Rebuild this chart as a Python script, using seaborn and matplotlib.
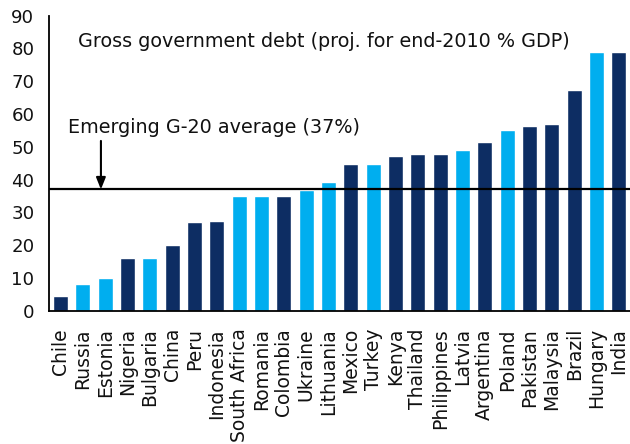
import matplotlib
matplotlib.use("Agg")
import matplotlib.pyplot as plt
import seaborn as sns
import pandas as pd
from matplotlib.ticker import FixedLocator

countries = ["Chile", "Russia", "Estonia", "Nigeria", "Bulgaria", "China", "Peru",
             "Indonesia", "South Africa", "Romania", "Colombia", "Ukraine", "Lithuania",
             "Mexico", "Turkey", "Kenya", "Thailand", "Philippines", "Latvia",
             "Argentina", "Poland", "Pakistan", "Malaysia", "Brazil", "Hungary", "India"]
debt = [4.4, 8.0, 9.9, 16.0, 16.0, 20.2, 27.0, 27.5, 35.0, 35.0, 35.0, 36.8, 39.2,
        44.7, 44.7, 47.2, 47.8, 47.8, 49.0, 51.4, 55.0, 56.4, 57.0, 67.4, 79.0, 79.0]
group = ["G20", "EU", "EU", "G20", "EU", "G20", "G20", "G20", "EU", "EU", "G20", "EU",
         "EU", "G20", "EU", "G20", "G20", "G20", "EU", "G20", "EU", "G20", "G20", "G20",
         "EU", "G20"]
g20_average = 37

palette = {"G20": "#0D2D63", "EU": "#00AEEF"}

df = pd.DataFrame({"country": countries, "debt": debt, "group": group})

sns.set_style("white")
plt.rcParams["font.family"] = ["DejaVu Sans"]

fig = plt.figure(figsize=(6.3, 4.44), dpi=100)
ax = fig.add_axes([0.0783, 0.3002, 0.9217, 0.6644])

sns.barplot(data=df, x="country", y="debt", hue="group", palette=palette,
            dodge=False, width=0.66, legend=False, ax=ax, saturation=1)

n = len(countries)
ax.set_xlim(-0.5, n - 0.5)
ax.set_ylim(0, 90)
ax.set_yticks(range(0, 91, 10))
ax.set_xlabel("")
ax.set_ylabel("")

for s in ["top", "right"]:
    ax.spines[s].set_visible(False)
for s in ["left", "bottom"]:
    ax.spines[s].set_color("black")
    ax.spines[s].set_linewidth(1.3)

ax.tick_params(axis="y", direction="out", length=4.3, width=1.3, color="black",
               labelsize=13.1, pad=6.5, labelcolor="#111111")
ax.tick_params(axis="x", which="major", length=0, labelsize=13.5, pad=12.5,
               labelrotation=90, labelcolor="#111111")
ax.xaxis.set_minor_locator(FixedLocator([i - 0.5 for i in range(n + 1)]))
ax.tick_params(axis="x", which="minor", direction="out", length=5, width=1.3,
               color="black")
for lbl in ax.get_xticklabels():
    lbl.set_verticalalignment("top")

ax.axhline(g20_average, color="black", linewidth=1.6, zorder=3)

ax.annotate("", xy=(1.81, g20_average), xytext=(1.81, 51.8),
            arrowprops=dict(arrowstyle="-|>,head_length=0.7,head_width=0.28",
                            color="black", lw=1.5, shrinkA=0, shrinkB=0))
ax.text(0.337, 54.1, f"Emerging G-20 average ({g20_average}%)", fontsize=13.8,
        ha="left", va="baseline", color="#111111")
ax.text(0.784, 80.4, "Gross government debt (proj. for end-2010 % GDP)", fontsize=13.8,
        ha="left", va="baseline", color="#111111")

fig.savefig("out.png", dpi=100)
